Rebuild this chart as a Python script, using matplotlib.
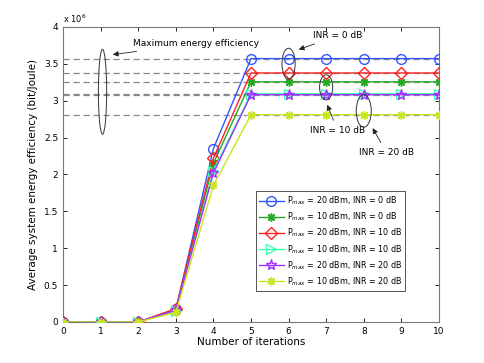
import matplotlib.pyplot as plt
from matplotlib.patches import Ellipse

# iterations on the x axis
iterations = [0, 1, 2, 3, 4, 5, 6, 7, 8, 9, 10]

# energy efficiency per series (x 1e6 bit/Joule)
ee_20_0 = [0, 0, 0, 0.17, 2.35, 3.57, 3.57, 3.57, 3.57, 3.57, 3.57]
ee_10_0 = [0, 0, 0, 0.16, 2.15, 3.255, 3.255, 3.255, 3.255, 3.255, 3.255]
ee_20_10 = [0, 0, 0, 0.18, 2.22, 3.375, 3.375, 3.375, 3.375, 3.375, 3.375]
ee_10_10 = [0, 0, 0, 0.15, 2.05, 3.095, 3.095, 3.095, 3.095, 3.095, 3.095]
ee_20_20 = [0, 0, 0, 0.16, 2.02, 3.08, 3.08, 3.08, 3.08, 3.08, 3.08]
ee_10_20 = [0, 0, 0, 0.13, 1.85, 2.81, 2.81, 2.81, 2.81, 2.81, 2.81]

labels = ["P$_{max}$ = 20 dBm, INR = 0 dB",
          "P$_{max}$ = 10 dBm, INR = 0 dB",
          "P$_{max}$ = 20 dBm, INR = 10 dB",
          "P$_{max}$ = 10 dBm, INR = 10 dB",
          "P$_{max}$ = 20 dBm, INR = 20 dB",
          "P$_{max}$ = 10 dBm, INR = 20 dB"]

series = [ee_20_0, ee_10_0, ee_20_10, ee_10_10, ee_20_20, ee_10_20]
colors = ['#3355ff', '#22aa22', '#ff2020', '#40ffb0', '#a030ff', '#c8e61e']
# asterisk = 8 spokes like matlab '*'
markers = ['o', (8, 2, 0), 'D', '>', '*', (8, 2, 0)]
msizes = [7, 6, 6, 7, 8, 6]

plt.rcParams['font.family'] = 'DejaVu Sans'
fig = plt.figure(figsize=(4.85, 3.63), dpi=100)
ax = fig.add_axes([0.13, 0.113, 0.775, 0.813])

# dashed reference lines at the maximum values
for s in series:
    ax.axhline(s[-1], color='#888888', linestyle='--', linewidth=0.9, dashes=(5, 3), zorder=1)

for s, c, m, ms, lab in zip(series, colors, markers, msizes, labels):
    ax.plot(iterations, s, color=c, marker=m, markersize=ms, markerfacecolor='none',
            markeredgecolor=c, markeredgewidth=1.0, linewidth=1.0, label=lab, zorder=3)

ax.set_xlim(0, 10)
ax.set_ylim(0, 4)
ax.set_xticks(range(0, 11))
ax.set_yticks([0, 0.5, 1, 1.5, 2, 2.5, 3, 3.5, 4])
ax.set_yticklabels(['0', '0.5', '1', '1.5', '2', '2.5', '3', '3.5', '4'])
ax.tick_params(labelsize=6.5, direction='in', length=3, width=0.6, top=True, right=True)
for sp in ax.spines.values():
    sp.set_color('#777777')
ax.text(0, 4.03, 'x 10$^6$', fontsize=6, ha='left', va='bottom')
ax.set_xlabel('Number of iterations', fontsize=7.5, labelpad=1)
ax.set_ylabel('Average system energy efficiency (bit/Joule)', fontsize=7.5, labelpad=4)

# ellipses and annotations
ax.add_patch(Ellipse((1.05, 3.12), 0.22, 1.15, fill=False, edgecolor='#333333', linewidth=0.7, zorder=4))
ax.add_patch(Ellipse((6.0, 3.5), 0.35, 0.42, fill=False, edgecolor='#333333', linewidth=0.7, zorder=4))
ax.add_patch(Ellipse((7.0, 3.18), 0.35, 0.34, fill=False, edgecolor='#333333', linewidth=0.7, zorder=4))
ax.add_patch(Ellipse((8.0, 2.86), 0.4, 0.44, fill=False, edgecolor='#333333', linewidth=0.7, zorder=4))

arrow = dict(arrowstyle='-|>', color='#222222', linewidth=0.6, mutation_scale=8)
ax.annotate('Maximum energy efficiency', xy=(1.25, 3.62), xytext=(1.85, 3.77),
            fontsize=6.5, ha='left', va='center', arrowprops=arrow)
ax.annotate('INR = 0 dB', xy=(6.2, 3.68), xytext=(6.65, 3.88),
            fontsize=6.5, ha='left', va='center', arrowprops=arrow)
ax.annotate('INR = 10 dB', xy=(7.0, 2.98), xytext=(7.3, 2.6),
            fontsize=6.5, ha='center', va='center', arrowprops=arrow)
ax.annotate('INR = 20 dB', xy=(8.2, 2.66), xytext=(8.6, 2.3),
            fontsize=6.5, ha='center', va='center', arrowprops=arrow)

leg = ax.legend(loc='upper left', bbox_to_anchor=(0.503, 0.456), fontsize=5.8, frameon=True,
                fancybox=False, edgecolor='#555555', handlelength=3, borderpad=0.4,
                labelspacing=0.45, handletextpad=0.4, framealpha=1)
leg.get_frame().set_linewidth(0.7)

fig.savefig('out.png', dpi=100)
